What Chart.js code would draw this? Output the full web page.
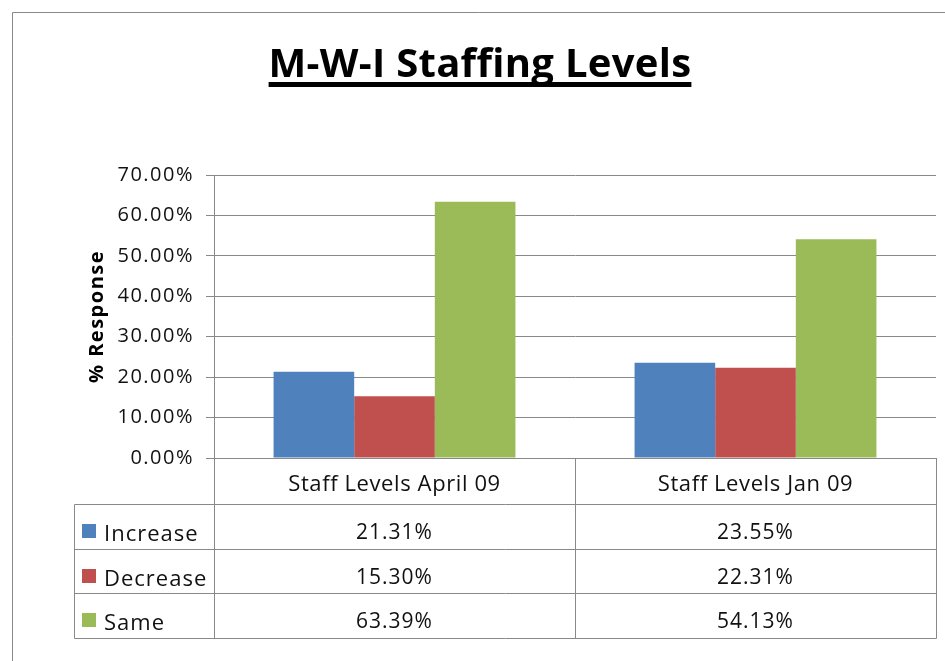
<!DOCTYPE html>
<html>
<head>
<meta charset="utf-8">
<script src="https://cdn.jsdelivr.net/npm/chart.js@4.4.1/dist/chart.umd.min.js"></script>
<style>
    html, body { margin: 0; padding: 0; background: #fff; }
    #staffChart { width: 945px; height: 661px; position: relative; }
</style>
</head>
<body>
<div id="staffChart"><canvas></canvas></div>
<script>
// data
const chartTitle = "M-W-I Staffing Levels";
const categories = ["Staff Levels April 09", "Staff Levels Jan 09"];
const seriesNames = ["Increase", "Decrease", "Same"];
const increase = [21.31, 23.55];
const decrease = [15.30, 22.31];
const same = [63.39, 54.13];
const yMin = 0, yMax = 70, yStep = 10;

const colors = ["#4F81BD", "#C0504D", "#9BBB59"];
const lineColor = "#898989";
const textColor = "#111";

// sa title ni (bold + underline like excel)
const titlePlugin = {
    id: "excelTitle",
    beforeDraw(chart) {
        const ctx = chart.ctx;
        ctx.save();
        ctx.fillStyle = "#fff";
        ctx.fillRect(0, 0, chart.width, chart.height);
        // outer chart border
        ctx.strokeStyle = lineColor;
        ctx.lineWidth = 1;
        ctx.beginPath();
        ctx.moveTo(12.5, chart.height);
        ctx.lineTo(12.5, 12.5);
        ctx.lineTo(chart.width, 12.5);
        ctx.stroke();

        ctx.letterSpacing = "0.3px";
        ctx.font = "bold 40px 'Open Sans', sans-serif";
        ctx.fillStyle = "#000";
        ctx.textAlign = "center";
        ctx.textBaseline = "alphabetic";
        const cx = 480;
        ctx.fillText(chartTitle, cx, 77);
        const w = ctx.measureText(chartTitle).width;
        ctx.fillRect(cx - w / 2, 82, w, 5);
        ctx.restore();

        // spacing for the axis texts drawn by chart.js
        ctx.letterSpacing = "1.5px";
    }
};

// data table under the plot
const tablePlugin = {
    id: "dataTable",
    afterDraw(chart) {
        const ctx = chart.ctx;
        const area = chart.chartArea;
        const xs = chart.scales.x;
        const series = [increase, decrease, same];

        const left = area.left;
        const right = area.right;
        const mid = (xs.getPixelForValue(0) + xs.getPixelForValue(1)) / 2;
        const top = area.bottom;
        const headH = 46;
        const rowH = 44.5;
        const tableLeft = 74;
        const rowTops = [top + headH, top + headH + rowH, top + headH + rowH * 2];
        const bottom = top + headH + rowH * 3;
        const p = v => Math.round(v) + 0.5;

        ctx.save();
        ctx.strokeStyle = lineColor;
        ctx.lineWidth = 1;
        ctx.beginPath();
        [left, mid, right].forEach(x => {
            ctx.moveTo(p(x), top);
            ctx.lineTo(p(x), p(bottom));
        });
        ctx.moveTo(p(tableLeft), p(rowTops[0]));
        ctx.lineTo(p(tableLeft), p(bottom));
        rowTops.concat([bottom]).forEach(y => {
            ctx.moveTo(p(tableLeft), p(y));
            ctx.lineTo(p(right), p(y));
        });
        ctx.stroke();

        // header (category labels)
        ctx.fillStyle = textColor;
        ctx.textAlign = "center";
        ctx.textBaseline = "alphabetic";
        ctx.letterSpacing = "0.6px";
        ctx.font = "22px 'Open Sans', sans-serif";
        categories.forEach((c, i) => {
            ctx.fillText(c, xs.getPixelForValue(i), top + 33);
        });

        // rows
        seriesNames.forEach((name, r) => {
            const y = rowTops[r];
            ctx.fillStyle = colors[r];
            ctx.fillRect(82, Math.round(y + 20), 14, 14);

            ctx.fillStyle = textColor;
            ctx.textAlign = "left";
            ctx.letterSpacing = "1px";
            ctx.font = "22px 'Open Sans', sans-serif";
            ctx.fillText(name, 104, y + 37);

            ctx.textAlign = "center";
            ctx.letterSpacing = "1px";
            ctx.font = "21px 'Open Sans', sans-serif";
            series[r].forEach((v, i) => {
                ctx.fillText(v.toFixed(2) + "%", xs.getPixelForValue(i), y + 35);
            });
        });
        ctx.restore();
    }
};

document.addEventListener("DOMContentLoaded", () => {

    const ctx = document.querySelector("#staffChart canvas").getContext("2d");

    new Chart(ctx, {
        type: "bar",
        data: {
            labels: categories,
            datasets: [increase, decrease, same].map((d, i) => ({
                label: seriesNames[i],
                data: d,
                backgroundColor: colors[i],
                borderWidth: 0,
                categoryPercentage: 0.67,
                barPercentage: 1.0,
            }))
        },
        options: {
            responsive: true,
            maintainAspectRatio: false,
            animation: false,
            devicePixelRatio: 1,
            layout: {
                padding: { top: 175, right: 9, bottom: 203, left: 81 }
            },
            plugins: {
                legend: { display: false },
                title: { display: false },
                tooltip: { enabled: false }
            },
            scales: {
                x: {
                    grid: { display: false },
                    border: { display: false },
                    ticks: { display: false },
                    afterFit: (scale) => { scale.height = 0; }
                },
                y: {
                    min: yMin,
                    max: yMax,
                    grid: { color: lineColor, tickLength: 8, tickColor: lineColor },
                    border: { display: true, color: lineColor },
                    ticks: {
                        stepSize: yStep,
                        padding: 12,
                        color: textColor,
                        font: { family: "'Open Sans', sans-serif", size: 20 },
                        callback: (v) => v.toFixed(2) + "%"
                    },
                    title: {
                        display: true,
                        text: "% Response",
                        color: "#000",
                        font: { family: "'Open Sans', sans-serif", size: 20, weight: "bold" }
                    },
                    afterFit: (scale) => { scale.width = 214 - 81; }
                }
            }
        },
        plugins: [titlePlugin, tablePlugin]
    });
});
</script>
</body>
</html>
